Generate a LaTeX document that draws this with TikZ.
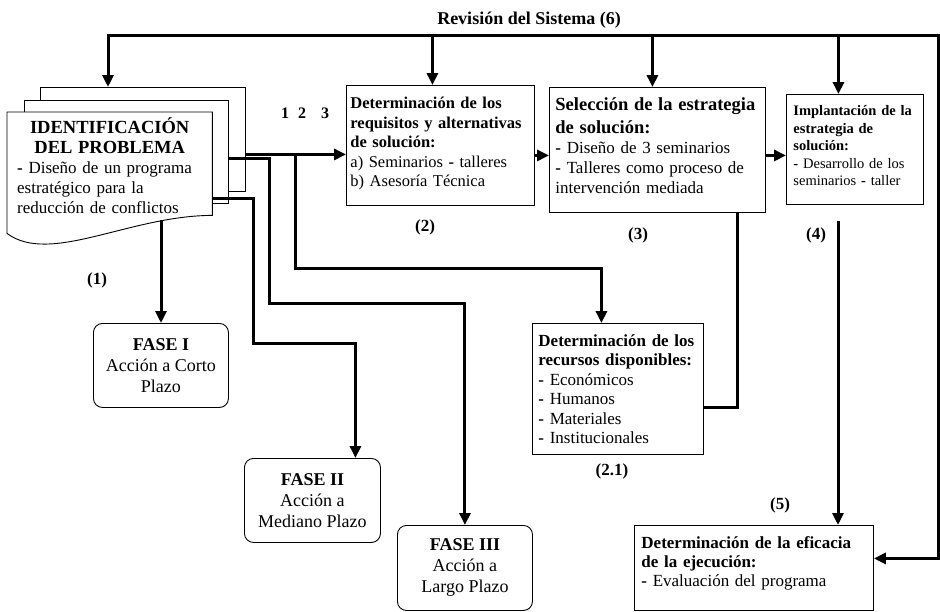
\documentclass[tikz,border=0pt]{standalone}
\usepackage{fontspec}
\setmainfont{Liberation Serif}
\usetikzlibrary{arrows.meta,backgrounds}

\begin{document}
\begin{tikzpicture}[x=1pt, y=-1pt,
	box/.style={rectangle, draw, line width=0.9pt, fill=white, anchor=north west, align=left, inner ysep=0pt},
	fase/.style={rectangle, rounded corners=9pt, draw, line width=0.9pt, anchor=north west, align=center, inner sep=0pt, font=\fontsize{18}{21}\selectfont},
	page/.style={rectangle, draw, line width=0.9pt, fill=white, anchor=north west, inner sep=0pt},
	flow/.style={line width=3pt, -{Triangle[length=12pt, width=11pt]}},
	flowboth/.style={line width=3pt, {Triangle[length=12pt, width=11pt]}-{Triangle[length=12pt, width=11pt]}},
	wire/.style={line width=3pt},
	num/.style={font=\fontsize{17}{20}\selectfont\bfseries}]
		
		\useasboundingbox (0,0) rectangle (940,611);
		
		%Title
		\node (title) at (529,20) [font=\fontsize{18}{20}\selectfont\bfseries] {Revisión del Sistema (6)};
		
		%Problem
		\node (ident) at (7,112) [anchor=north west, align=left, text width=185pt, inner xsep=10pt, inner ysep=0pt, minimum height=121pt, font=\fontsize{17}{20}\selectfont] {{\centering\bfseries\fontsize{18.5}{20}\selectfont IDENTIFICACIÓN\\ DEL PROBLEMA\par}\textbf{-} Diseño de un programa\\ estratégico para la\\ reducción de conflictos\rule[-15pt]{0pt}{1pt}};
		\begin{scope}[on background layer]
		\node (page3) at (40,87) [page, minimum width=205pt, minimum height=104pt] {};
		\node (page2) at (24,100) [page, minimum width=204pt, minimum height=103pt] {};
		\draw[line width=0.9pt, fill=white] (ident.south west) -- (ident.north west) -- (ident.north east) -- ([yshift=18pt]ident.south east) .. controls ([xshift=123pt, yshift=18pt]ident.south west) and ([xshift=43pt, yshift=-32pt]ident.south west) .. (ident.south west) -- cycle;
		\end{scope}
		
		%Boxes
		\node (box2) at (346,85) [box, text width=180pt, inner xsep=4pt, minimum height=120pt, font=\fontsize{16.5}{19.5}\selectfont] {\hyphenpenalty=10000\relax\textbf{Determinación de los}\\ \textbf{requisitos y alternativas}\\ \textbf{de solución:}\\ a) Seminarios \textbf{-} talleres\\ b) Asesoría Técnica\rule[-7pt]{0pt}{1pt}};
		\node (box3) at (549,87) [box, text width=204pt, inner xsep=6pt, minimum height=125pt, font=\fontsize{17}{20}\selectfont] {{\fontsize{18.5}{23}\selectfont\bfseries Selección de la estrategia\\ de solución:\par}\textbf{-} Diseño de 3 seminarios\\ \textbf{-} Talleres como proceso de\\ intervención mediada\rule[-8pt]{0pt}{1pt}};
		\node (box4) at (786,94) [box, text width=123pt, inner xsep=7pt, minimum height=110pt, font=\fontsize{14.5}{17.5}\selectfont] {\textbf{Implantación de la}\\ \textbf{estrategia de}\\ \textbf{solución:}\\ \textbf{-} Desarrollo de los\\ seminarios \textbf{-} taller\rule[-7pt]{0pt}{1pt}};
		\node (box21) at (532,323) [box, text width=159pt, inner xsep=6pt, minimum height=131pt, font=\fontsize{17}{19.5}\selectfont] {\textbf{Determinación de los}\\ \textbf{recursos disponibles:}\\ \textbf{-} Económicos\\ \textbf{-} Humanos\\ \textbf{-} Materiales\\ \textbf{-} Institucionales};
		\node (box5) at (634,525) [box, text width=225pt, inner xsep=7pt, minimum height=85pt, font=\fontsize{17}{19}\selectfont] {\textbf{Determinación de la eficacia}\\ \textbf{de la ejecución:}\\ \textbf{-} Evaluación del programa\rule[-12pt]{0pt}{1pt}};
		
		%Phases
		\node (fase1) at (93,323) [fase, minimum width=135pt, minimum height=84pt] {\textbf{FASE I}\\ Acción a Corto\\ Plazo};
		\node (fase2) at (244,458) [fase, minimum width=136pt, minimum height=84pt] {\textbf{FASE II}\\ Acción a\\ Mediano Plazo};
		\node (fase3) at (397,525) [fase, minimum width=135pt, minimum height=85pt] {\textbf{FASE III}\\ Acción a\\ Largo Plazo};
		
		%Numbers
		\node (lbl1) at (97,280) [num] {(1)};
		\node (lbl2) at (425,227) [num] {(2)};
		\node (lbl3) at (638,235) [num] {(3)};
		\node (lbl4) at (816,235) [num] {(4)};
		\node (lbl21) at (612,471) [num] {(2.1)};
		\node (lbl5) at (780,505) [num] {(5)};
		\node (one) at (285,113) [num, font=\fontsize{16}{18}\selectfont\bfseries] {1};
		\node (two) at (302,113) [num, font=\fontsize{16}{18}\selectfont\bfseries] {2};
		\node (three) at (325,113) [num, font=\fontsize{16}{18}\selectfont\bfseries] {3};
		
		%Points
		\coordinate (revL) at (108,35);
		\coordinate (revR) at (938,35);
		\coordinate (top2) at ([xshift=-8pt]box2.north);
		\coordinate (top3) at ([xshift=-5pt]box3.north);
		\coordinate (top4) at ([xshift=-16.5pt]box4.north);
		\coordinate (in2) at ([yshift=-9pt]box2.west);
		\coordinate (in3) at ([yshift=-5.5pt]box3.west);
		\coordinate (in4) at ([yshift=-6pt]box4.west);
		\coordinate (in5) at ([yshift=9.5pt]box5.east);
		\coordinate (in21) at ([yshift=-18.5pt]box21.east);
		\coordinate (top21) at ([xshift=-16.5pt]box21.north);
		\coordinate (out3) at ([xshift=80pt]box3.south);
		\coordinate (out2) at ([yshift=-6.5pt]page2.east);
		\coordinate (out1) at ([yshift=-25.5pt]ident.east);
		\coordinate (fork1) at (295,154);
		\coordinate (row1) at (295,268);
		\coordinate (bend3) at (269,303);
		\coordinate (bend2) at (253,343);
		\coordinate (topf2) at ([xshift=43pt]fase2.north);
		\coordinate (wave) at (161,220);
		\coordinate (c4) at (838,221);
		
		%Revision loop
		\draw[flowboth] (revL |- page3.north) |- (revR) |- (in5);
		\draw[flow] (top2 |- revL) -- (top2);
		\draw[flow] (top3 |- revL) -- (top3);
		\draw[flow] (top4 |- revL) -- (top4);
		
		%Main flow
		\draw[flow] (in2 -| page3.east) -- (in2);
		\draw[flow] (in3 -| box2.east) -- (in3);
		\draw[flow] (in4 -| box3.east) -- (in4);
		\draw[flow] (fork1) -- (row1) -| (top21);
		\draw[wire] (out3) |- (in21);
		\draw[flow] (c4) -- (c4 |- box5.north);
		
		%Phase arrows
		\draw[flow] (wave) -- (wave |- fase1.north);
		\draw[flow] (out1) -| (bend2) -| (topf2);
		\draw[flow] (out2) -| (bend3) -| (fase3.north);
		
\end{tikzpicture}
\end{document}
